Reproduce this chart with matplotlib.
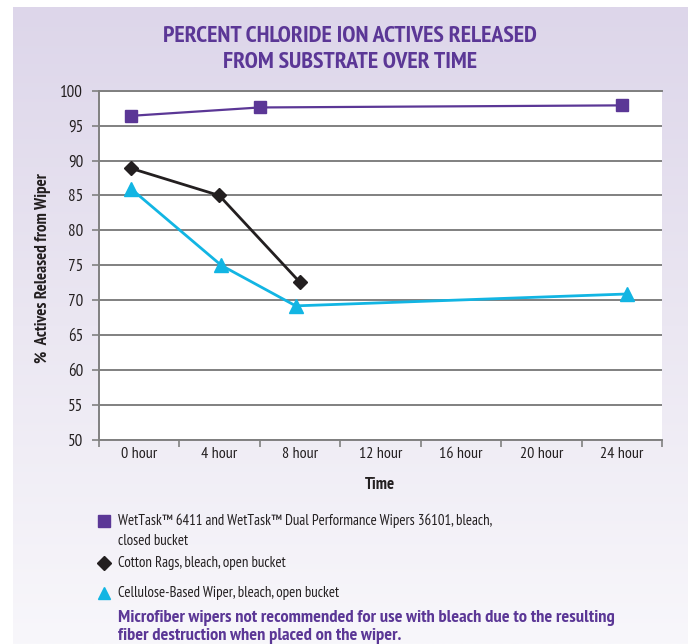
import numpy as np
import matplotlib
matplotlib.use("Agg")
import matplotlib.pyplot as plt
from matplotlib.lines import Line2D
from matplotlib.colors import LinearSegmentedColormap
from matplotlib import font_manager

# pick a narrow sans family that ships both a regular and a bold static face
faces = {}
for f in font_manager.fontManager.ttflist:
    narrow = "Narrow" in f.name or f.stretch in ("condensed", "semi-condensed")
    if narrow and "[" not in f.fname:
        w = f.weight if isinstance(f.weight, int) else (700 if "bold" in str(f.weight) else 400)
        faces.setdefault(f.name, set()).add("bold" if w >= 600 else "regular")
complete = [n for n, s in faces.items() if {"bold", "regular"} <= s]
if complete:
    complete.sort(key=lambda n: (0 if "Narrow" in n else 1, n))
    plt.rcParams['font.family'] = [complete[0], "DejaVu Sans"]
    plt.rcParams['font.stretch'] = "condensed"
else:
    plt.rcParams['font.family'] = ["Liberation Sans", "DejaVu Sans"]

# ---- data -------------------------------------------------------------
time_labels = ["0 hour", "4 hour", "8 hour", "12 hour", "16 hour", "20 hour", "24 hour"]
label_hours = [0, 4, 8, 12, 16, 20, 24]

wettask_hours = [-0.4, 6.0, 24.0]
wettask_pct = [96.4, 97.6, 97.9]

cotton_hours = [-0.4, 4.0, 8.0]
cotton_pct = [88.9, 85.0, 72.6]

cellulose_hours = [-0.4, 4.1, 7.8, 24.25]
cellulose_pct = [86.0, 75.0, 69.2, 70.9]

series_names = [
    "WetTask\u2122 6411 and WetTask\u2122 Dual Performance Wipers 36101, bleach,",
    "closed bucket",
    "Cotton Rags, bleach, open bucket",
    "Cellulose-Based Wiper, bleach, open bucket",
]
note_lines = ["Microfiber wipers not recommended for use with bleach due to the resulting",
              "fiber destruction when placed on the wiper."]
title_lines = ["PERCENT CHLORIDE ION ACTIVES RELEASED", "FROM SUBSTRATE OVER TIME"]

# ---- style ------------------------------------------------------------
PURPLE = "#5b3796"
BLACK = "#231f20"
CYAN = "#12b5e3"
GRID = "#808080"
TEXT = "#231f20"

W, H = 688, 644
fig = plt.figure(figsize=(W / 100, H / 100), dpi=100)
fig.patch.set_facecolor("white")
renderer = fig.canvas.get_renderer()


def fit_width(txt, target_px, along_y=False):
    """Scale a text's font size so its rendered extent is target_px."""
    bb = txt.get_window_extent(renderer=renderer)
    w = bb.height if along_y else bb.width
    size = txt.get_fontsize() * target_px / w
    txt.set_fontsize(size)
    return size


# lavender gradient panel behind everything
bg = fig.add_axes([13 / W, 0, 1 - 13 / W, (H - 7) / H], zorder=-10)
grad = np.linspace(0, 1, 256).reshape(-1, 1)
cmap = LinearSegmentedColormap.from_list("bg", ["#ddd6ea", "#ebe7f2", "#f8f7fb"])
bg.imshow(grad, aspect="auto", cmap=cmap, extent=[0, 1, 0, 1], origin="upper")
bg.set_axis_off()

# plot area
ax = fig.add_axes([98.5 / W, 1 - 440 / H, (662 - 98.5) / W, (440 - 90.7) / H])
ax.set_facecolor("white")

ax.plot(wettask_hours, wettask_pct, color=PURPLE, lw=1.6, marker="s", ms=8.5,
        markerfacecolor=PURPLE, markeredgecolor=PURPLE, zorder=5)
ax.plot(cotton_hours, cotton_pct, color=BLACK, lw=2.0, marker="D", ms=7.5,
        markerfacecolor=BLACK, markeredgecolor=BLACK, zorder=4)
ax.plot(cellulose_hours, cellulose_pct, color=CYAN, lw=2.0, marker="^", ms=9.5,
        markerfacecolor=CYAN, markeredgecolor=CYAN, zorder=3)

ax.set_xlim(-2, 26)
ax.set_ylim(50, 100)
ax.set_yticks(np.arange(50, 101, 5))
ax.set_xticks(label_hours)
ax.set_xticklabels(time_labels)
ax.set_xticks(np.arange(-2, 27, 4), minor=True)
ax.tick_params(axis="x", which="major", length=0, pad=5, labelsize=11.5, colors=TEXT)
ax.tick_params(axis="x", which="minor", length=5, width=1.2, color=GRID, direction="out")
ax.tick_params(axis="y", length=5, width=1.2, color=GRID, direction="out", pad=6,
               labelsize=12.2, labelcolor=TEXT)
ax.yaxis.grid(True, color=GRID, lw=1.4)
ax.set_axisbelow(True)
ax.spines["right"].set_visible(False)
for side in ["left", "bottom", "top"]:
    ax.spines[side].set_color(GRID)
    ax.spines[side].set_linewidth(1.4)

# axis titles
xt = fig.text(380 / W, 1 - 485 / H, "Time", ha="center", va="center", fontsize=11,
              fontweight="bold", color=TEXT)
fit_width(xt, 30)
ylab = fig.text(43 / W, 1 - 268 / H, "%  Actives Released from Wiper", ha="center",
                va="center", rotation=90, fontsize=11, fontweight="bold", color=TEXT)
fit_width(ylab, 190, along_y=True)

# chart title
t1 = fig.text(350 / W, 1 - 37 / H, title_lines[0], ha="center", va="center",
              fontsize=14, fontweight="bold", color=PURPLE)
title_size = fit_width(t1, 374)
fig.text(350 / W, 1 - 62 / H, title_lines[1], ha="center", va="center",
         fontsize=title_size, fontweight="bold", color=PURPLE)

# legend block
marker_x = 104 / W
text_x = 118 / W
fig.add_artist(Line2D([marker_x], [1 - 521 / H], transform=fig.transFigure, marker="s",
                      ms=8, color=PURPLE, ls="none"))
l1 = fig.text(text_x, 1 - 521 / H, series_names[0], ha="left", va="center", fontsize=11,
              color=TEXT)
leg_size = fit_width(l1, 375)
fig.text(text_x, 1 - 541 / H, series_names[1], ha="left", va="center", fontsize=leg_size,
         color=TEXT)
fig.add_artist(Line2D([marker_x], [1 - 563 / H], transform=fig.transFigure, marker="D",
                      ms=7, color=BLACK, ls="none"))
fig.text(text_x, 1 - 563 / H, series_names[2], ha="left", va="center", fontsize=leg_size,
         color=TEXT)
fig.add_artist(Line2D([marker_x], [1 - 593 / H], transform=fig.transFigure, marker="^",
                      ms=9, color=CYAN, ls="none"))
fig.text(text_x, 1 - 593 / H, series_names[3], ha="left", va="center", fontsize=leg_size,
         color=TEXT)
n1 = fig.text(text_x, 1 - 618 / H, note_lines[0], ha="left", va="center", fontsize=10.5,
              fontweight="bold", color=PURPLE)
note_size = fit_width(n1, 499)
fig.text(text_x, 1 - 636 / H, note_lines[1], ha="left", va="center", fontsize=note_size,
         fontweight="bold", color=PURPLE)

fig.savefig("out.png", dpi=100, facecolor=fig.get_facecolor())
